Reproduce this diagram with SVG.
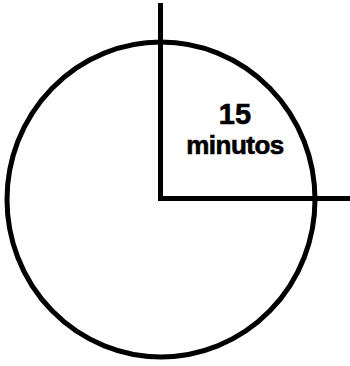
<svg xmlns="http://www.w3.org/2000/svg" width="350" height="366" viewBox="0 0 350 366">
<style>
.ln{stroke:#000;stroke-width:5;fill:none}
.t{font-family:"Liberation Sans",Arial,sans-serif;font-weight:bold;fill:#000;text-anchor:middle}
</style>
<rect width="350" height="366" fill="#fff"/>
<g id="clock">
<ellipse class="ln" cx="161" cy="199.5" rx="154" ry="157.5"/>
</g>
<g id="connectors">
<line class="ln" x1="160.5" y1="3" x2="160.5" y2="198.5"/>
<line class="ln" x1="158" y1="198.5" x2="350" y2="198.5"/>
</g>
<g id="label">
<text class="t" x="235" y="124" font-size="29" stroke="#000" stroke-width="0.6">15</text>
<text class="t" x="235" y="154" font-size="26" letter-spacing="-0.5" stroke="#000" stroke-width="0.6">minutos</text>
</g>
</svg>
